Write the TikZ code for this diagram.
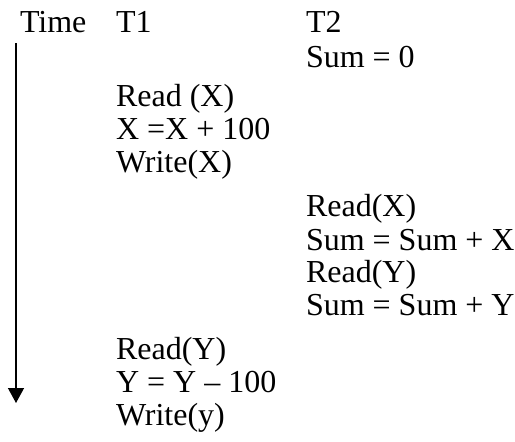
\documentclass[tikz,border=0pt]{standalone}
\usepackage{fontspec}
\setmainfont{Liberation Serif}
\usepackage{tikz}
\usetikzlibrary{
  positioning,
  arrows.meta
}
\tikzset{
  oplabel/.style={
    anchor=base west, inner sep=0pt, outer sep=0pt,
    font=\fontsize{32}{36}\selectfont
  },
  timearrow/.style={
    -{Triangle[width=16pt,length=15pt]}, line width=1.4pt, draw=black
  }
}

\begin{document}
\begin{tikzpicture}[x=1pt, y=-1pt]
    \useasboundingbox (0,0) rectangle (515,442);

    % Column heads
    \node[oplabel] (time) at (20,32) {Time};
    \node[oplabel] (tone) at (116,32) {T1};
    \node[oplabel] (ttwo) at (306,32) {T2};

    % T1 operations
    \node[oplabel] (readxa) at (116,106) {Read (X)};
    \node[oplabel] (incx) at (116,139) {X =X + 100};
    \node[oplabel] (writex) at (116,172) {Write(X)};
    \node[oplabel] (readya) at (116,359) {Read(Y)};
    \node[oplabel] (decy) at (116,392) {Y = Y – 100};
    \node[oplabel] (writey) at (116,425) {Write(y)};

    % T2 operations
    \node[oplabel] (sumzero) at (306,67) {Sum = 0};
    \node[oplabel] (readxb) at (306,216) {Read(X)};
    \node[oplabel] (sumx) at (306,250) {Sum = Sum + X};
    \node[oplabel] (readyb) at (306,282) {Read(Y)};
    \node[oplabel] (sumy) at (306,315) {Sum = Sum + Y};

    % Time axis
    \coordinate (tstart) at (16,43);
    \coordinate (tend) at (16,403);
    \draw[timearrow] (tstart) -- (tend);

  \end{tikzpicture}
\end{document}
